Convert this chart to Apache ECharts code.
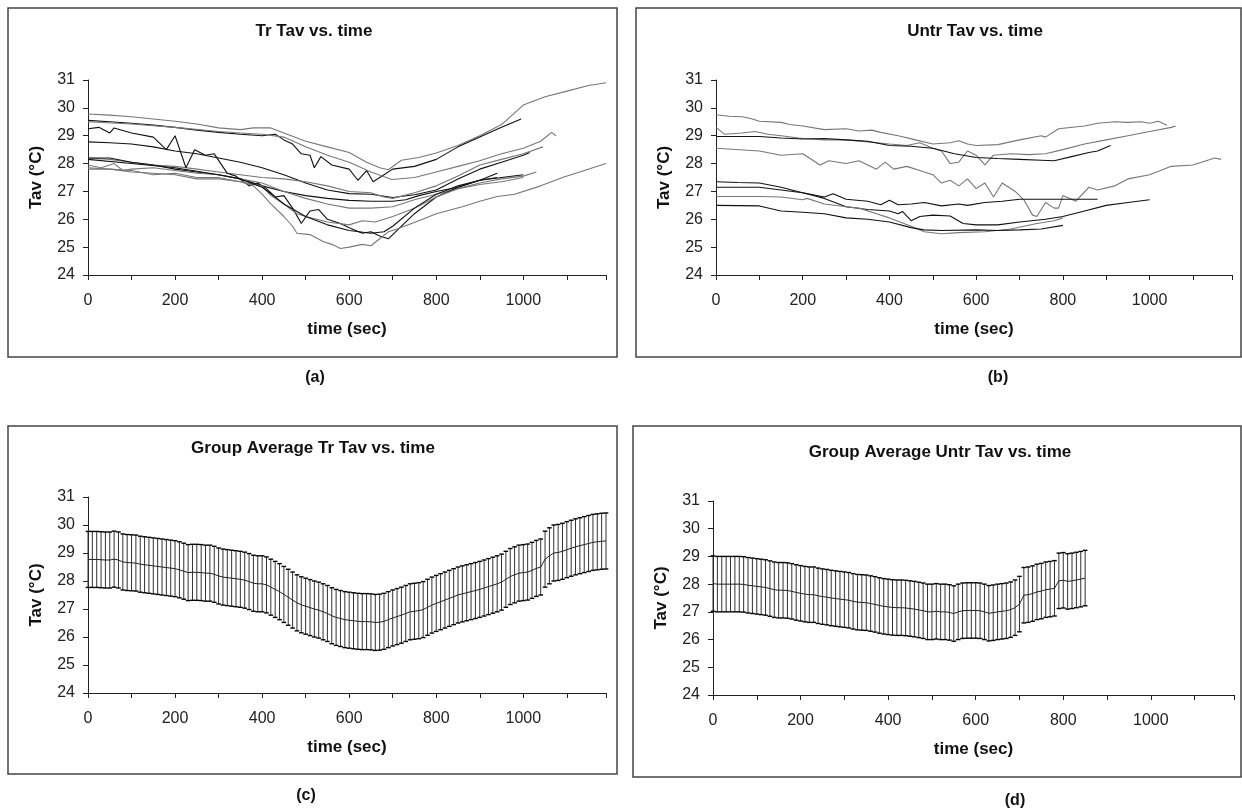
<!DOCTYPE html>
<html>
<head>
<meta charset="utf-8">
<script src="https://cdn.jsdelivr.net/npm/echarts@6/dist/echarts.min.js"></script>
<style>
html,body{margin:0;padding:0;background:#fff;}
#chart{width:1242px;height:811px;}
</style>
</head>
<body>
<div id="chart"></div>
<script>
// ---------- Data ----------
const panelTitles = ['Tr Tav vs. time', 'Untr Tav vs. time', 'Group Average Tr Tav vs. time', 'Group Average Untr Tav vs. time'];
const panelLetters = ['(a)', '(b)', '(c)', '(d)'];
const xTickValues = [0, 100, 200, 300, 400, 500, 600, 700, 800, 900, 1000, 1100, 1190];
const xLabelValues = [0, 200, 400, 600, 800, 1000];
const yTickValues = [24, 25, 26, 27, 28, 29, 30, 31];

// (a) individual treated traces [time, Tav]
const tr1 = [[0,29.78],[50,29.74],[100,29.68],[150,29.6],[200,29.52],[250,29.42],[300,29.28],[350,29.22],[380,29.28],[420,29.28],[450,29.1],[500,28.8],[550,28.6],[600,28.4],[640,28.05],[670,27.85],[690,27.78],[720,28.12],[760,28.22],[800,28.38],[850,28.65],[900,29.0],[950,29.4],[1000,30.1],[1050,30.4],[1100,30.6],[1150,30.8],[1190,30.9]];
const tr2 = [[0,29.55],[50,29.5],[100,29.45],[150,29.38],[200,29.3],[250,29.2],[300,29.12],[350,29.05],[400,29.0],[430,29.05],[450,28.85],[470,28.7],[490,28.35],[510,28.3],[520,27.85],[535,28.25],[560,27.95],[600,27.8],[620,27.4],[640,27.75],[655,27.35],[680,27.6],[700,27.8],[750,27.9],[800,28.15],[850,28.6],[900,28.95],[950,29.3],[995,29.6]];
const tr3 = [[0,29.5],[100,29.42],[200,29.3],[300,29.15],[350,29.1],[400,29.05],[450,28.95],[500,28.6],[550,28.3],[600,28.05],[650,27.7],[698,27.43],[750,27.5],[800,27.7],[850,27.9],[900,28.1],[950,28.35],[1000,28.55],[1040,28.8],[1065,29.12],[1075,29.0]];
const tr4 = [[0,28.78],[50,28.75],[100,28.7],[150,28.6],[200,28.45],[250,28.35],[300,28.2],[350,28.05],[400,27.85],[450,27.6],[500,27.3],[550,27.05],[600,26.92],[650,26.9],[700,26.78],[750,26.88],[800,27.05],[850,27.45],[900,27.8],[950,28.05],[1000,28.3],[1015,28.4]];
const tr5 = [[0,28.2],[50,28.15],[100,28.05],[150,27.95],[200,27.9],[250,27.8],[300,27.7],[350,27.6],[400,27.5],[450,27.45],[500,27.35],[550,27.2],[600,27.0],[650,26.95],[680,26.8],[700,26.75],[750,26.95],[800,27.2],[850,27.55],[900,27.95],[950,28.15],[1000,28.35],[1045,28.6]];
const tr6 = [[0,28.2],[50,28.2],[100,28.05],[150,27.95],[200,27.8],[250,27.7],[300,27.6],[350,27.45],[400,27.2],[450,27.0],[500,26.85],[550,26.75],[600,26.68],[650,26.65],[700,26.65],[730,26.7],[760,26.85],[800,27.0],[850,27.15],[900,27.4],[940,27.65]];
const tr7 = [[0,27.95],[30,27.85],[50,27.95],[60,28.0],[80,27.75],[100,27.8],[150,27.85],[200,27.75],[250,27.65],[300,27.6],[350,27.45],[400,27.3],[450,27.0],[500,26.75],[550,26.55],[600,26.4],[650,26.4],[700,26.45],[750,26.7],[800,26.9],[850,27.1],[900,27.3],[950,27.45],[1000,27.55],[1030,27.7]];
const tr8 = [[0,29.25],[25,29.3],[50,29.1],[60,29.28],[100,29.1],[150,28.95],[180,28.5],[200,29.0],[225,27.85],[245,28.5],[270,28.3],[290,28.35],[320,27.65],[340,27.55],[370,27.2],[390,27.3],[410,27.1],[430,26.8],[450,26.85],[470,26.4],[490,25.85],[510,26.3],[530,26.35],[550,26.0],[580,25.85],[600,25.7],[630,25.5],[650,25.55],[670,25.4],[690,25.3],[710,25.6],[750,26.2],[800,26.8],[850,27.15],[900,27.4],[950,27.5],[1000,27.6]];
const tr9 = [[0,27.8],[50,27.8],[100,27.75],[150,27.6],[200,27.65],[250,27.5],[300,27.5],[350,27.35],[400,27.2],[420,26.85],[450,26.55],[480,26.2],[500,26.1],[550,25.9],[600,25.8],[630,25.95],[660,25.9],[700,26.1],[750,26.4],[800,26.8],[850,27.1],[900,27.25],[950,27.35],[1000,27.5]];
const tr10 = [[0,28.15],[100,28.0],[200,27.85],[300,27.6],[350,27.45],[400,27.15],[430,26.8],[450,26.55],[500,26.1],[550,25.8],[600,25.6],[650,25.5],[680,25.55],[700,25.75],[750,26.4],[800,26.9],[850,27.2],[900,27.4],[940,27.5]];
const tr11 = [[0,27.85],[50,27.8],[100,27.7],[150,27.65],[200,27.6],[250,27.45],[300,27.45],[350,27.35],[380,27.2],[400,26.9],[420,26.55],[450,26.1],[470,25.75],[480,25.5],[510,25.45],[540,25.2],[560,25.1],[580,24.95],[600,25.0],[630,25.1],[650,25.05],[670,25.3],[690,25.55],[710,25.65],[760,25.95],[800,26.2],[860,26.45],[900,26.65],[940,26.82],[980,26.9],[1040,27.2],[1090,27.5],[1140,27.75],[1190,28.0]];

// (b) individual untreated traces [time, Tav]
const un1 = [[0,29.75],[30,29.7],[60,29.68],[80,29.62],[100,29.52],[150,29.48],[170,29.4],[200,29.35],[250,29.22],[300,29.25],[330,29.17],[360,29.2],[380,29.12],[420,29.0],[460,28.85],[500,28.7],[540,28.75],[560,28.82],[580,28.7],[600,28.65],[650,28.68],[700,28.85],[750,29.0],[760,28.95],[790,29.25],[850,29.35],[880,29.45],[920,29.5],[950,29.48],[980,29.5],[1000,29.45],[1020,29.52],[1040,29.38]];
const un2 = [[0,29.3],[20,29.05],[60,29.1],[90,29.15],[120,29.05],[150,29.0],[200,28.9],[250,28.85],[300,28.85],[350,28.78],[400,28.7],[440,28.65],[470,28.75],[500,28.55],[520,28.45],[540,28.0],[560,28.05],[580,28.45],[600,28.3],[620,27.95],[640,28.3],[680,28.35],[720,28.32],[760,28.35],[800,28.5],[850,28.7],[900,28.85],[950,29.0],[1000,29.15],[1050,29.3],[1060,29.35]];
const un3 = [[0,28.97],[50,28.97],[100,28.97],[150,28.92],[200,28.88],[250,28.9],[300,28.85],[350,28.8],[400,28.65],[450,28.62],[500,28.55],[550,28.35],[600,28.22],[650,28.18],[700,28.15],[750,28.12],[780,28.1],[820,28.25],[860,28.4],[880,28.45],[910,28.65]];
const un4 = [[0,28.55],[100,28.45],[150,28.3],[200,28.35],[240,27.95],[260,28.1],[300,28.0],[330,28.1],[370,27.8],[390,28.05],[410,27.8],[440,27.9],[470,27.75],[500,27.6],[520,27.3],[540,27.4],[560,27.2],[580,27.45],[600,27.1],[620,27.3],[640,26.8],[660,27.3],[690,27.0],[710,26.7],[730,26.15],[740,26.1],[760,26.6],[780,26.4],[790,26.4],[800,26.85],[830,26.65],[860,27.15],[880,27.05],[920,27.2],[950,27.45],[1000,27.6],[1050,27.9],[1100,27.95],[1150,28.2],[1165,28.15]];
const un5 = [[0,27.35],[50,27.32],[100,27.3],[150,27.15],[200,26.95],[250,26.8],[270,26.92],[300,26.72],[350,26.65],[380,26.52],[400,26.68],[420,26.52],[450,26.55],[480,26.6],[520,26.48],[560,26.55],[580,26.5],[620,26.6],[660,26.65],[700,26.72],[750,26.72],[800,26.72],[840,26.72],[880,26.72]];
const un6 = [[0,27.15],[50,27.15],[100,27.15],[150,27.05],[200,26.95],[250,26.75],[300,26.45],[350,26.35],[400,26.3],[420,26.2],[430,26.28],[450,25.95],[470,26.1],[500,26.15],[540,26.12],[570,25.85],[600,25.8],[650,25.8],[700,25.9],[760,26.0],[800,26.1],[850,26.3],[900,26.5],[950,26.6],[1000,26.7]];
const un7 = [[0,26.82],[100,26.82],[150,26.8],[200,26.7],[210,26.75],[250,26.55],[300,26.45],[330,26.4],[370,26.2],[400,26.05],[450,25.75],[480,25.55],[520,25.48],[560,25.52],[620,25.55],[680,25.65],[740,25.85],[780,25.95],[800,26.05]];
const un8 = [[0,26.5],[100,26.48],[150,26.3],[200,26.25],[250,26.2],[300,26.05],[350,26.0],[400,25.9],[450,25.7],[480,25.62],[520,25.6],[600,25.62],[650,25.6],[700,25.62],[750,25.65],[800,25.78]];

// (c) group average treated, one value every 10 s from 0 s
const trAvgStep = 10;
const trAvgMean = [
 28.77,28.77,28.77,28.76,28.75,28.75,28.78,28.75,28.68,28.66,
 28.65,28.64,28.60,28.58,28.56,28.54,28.52,28.50,28.48,28.46,
 28.44,28.40,28.35,28.30,28.31,28.31,28.30,28.28,28.28,28.24,
 28.18,28.14,28.12,28.10,28.08,28.06,28.03,27.98,27.92,27.90,
 27.90,27.86,27.78,27.70,27.62,27.52,27.42,27.32,27.22,27.15,
 27.10,27.05,27.00,26.96,26.90,26.84,26.76,26.70,26.66,26.62,
 26.60,26.58,26.56,26.55,26.55,26.54,26.52,26.53,26.56,26.62,
 26.68,26.73,26.78,26.84,26.90,26.92,26.94,26.98,27.06,27.14,
 27.20,27.26,27.32,27.38,27.44,27.50,27.54,27.58,27.62,27.66,
 27.70,27.75,27.80,27.85,27.90,27.96,28.06,28.16,28.22,28.28,
 28.30,28.32,28.38,28.45,28.50,28.78,28.90,29.00,29.02,29.06,
 29.12,29.17,29.22,29.26,29.30,29.34,29.38,29.40,29.42,29.43];
const trAvgErr = 1.0;

// (d) group average untreated, one value every 10 s from 0 s
const unAvgStep = 10;
const unAvgMean = [
 28.02,28.00,28.00,28.00,28.00,28.00,28.00,27.99,27.96,27.94,
 27.92,27.90,27.88,27.84,27.80,27.78,27.78,27.77,27.74,27.70,
 27.67,27.64,27.62,27.62,27.58,27.55,27.53,27.50,27.48,27.46,
 27.44,27.42,27.38,27.35,27.34,27.33,27.30,27.27,27.23,27.20,
 27.18,27.16,27.15,27.15,27.14,27.12,27.10,27.07,27.04,27.00,
 27.00,27.02,27.00,27.00,26.98,26.94,27.00,27.04,27.05,27.05,
 27.05,27.04,27.00,26.95,26.97,27.00,27.02,27.04,27.08,27.15,
 27.28,27.60,27.62,27.66,27.72,27.75,27.80,27.82,27.85,28.12,
 28.14,28.10,28.12,28.15,28.18,28.22];
const unAvgErr = 1.0;

// ---------- Build ----------
const GRAY = '#777777', BLACK = '#111';
const trLines = [tr1,tr2,tr3,tr4,tr5,tr6,tr7,tr8,tr9,tr10,tr11];
const trColors = [GRAY,BLACK,GRAY,BLACK,GRAY,BLACK,GRAY,BLACK,GRAY,BLACK,GRAY];
const unLines = [un1,un2,un3,un4,un5,un6,un7,un8];
const unColors = [GRAY,GRAY,BLACK,GRAY,BLACK,BLACK,GRAY,BLACK];

const FONT = 'Liberation Sans, Arial, sans-serif';

const grids = [
  {left: 88, top: 80, width: 518, height: 195},
  {left: 716, top: 80, width: 516, height: 195},
  {left: 88, top: 497, width: 518, height: 196},
  {left: 713, top: 501, width: 521, height: 194}
];

function makeX(i){
  return {
    type: 'value', gridIndex: i, min: 0, max: 1190, interval: 100,
    name: 'time (sec)', nameLocation: 'middle', nameGap: 46,
    nameTextStyle: {fontFamily: FONT, fontWeight: 'bold', fontSize: 17, color: '#111'},
    axisLine: {show: true, onZero: false, lineStyle: {color: '#222', width: 1}},
    axisTick: {show: true, length: 5, inside: false, customValues: xTickValues, lineStyle: {color: '#222'}},
    axisLabel: {fontFamily: FONT, fontSize: 16, color: '#222', margin: 18, customValues: xLabelValues,
      formatter: v => (v % 200 === 0 && v <= 1000) ? String(v) : ''},
    splitLine: {show: false}
  };
}
function makeY(i){
  return {
    type: 'value', gridIndex: i, min: 24, max: 31, interval: 1,
    name: 'Tav (°C)', nameLocation: 'middle', nameGap: 43, nameRotate: 90,
    nameTextStyle: {fontFamily: FONT, fontWeight: 'bold', fontSize: 17, color: '#111'},
    axisLine: {show: true, lineStyle: {color: '#222', width: 1}},
    axisTick: {show: true, length: 5, inside: false, customValues: yTickValues, lineStyle: {color: '#222'}},
    axisLabel: {fontFamily: FONT, fontSize: 16, color: '#222', margin: 13},
    splitLine: {show: false}
  };
}

const series = [];
trLines.forEach((d, k) => series.push({
  type: 'line', xAxisIndex: 0, yAxisIndex: 0, data: d, showSymbol: false, symbol: 'none',
  lineStyle: {color: trColors[k], width: 1.1}, silent: true, animation: false
}));
unLines.forEach((d, k) => series.push({
  type: 'line', xAxisIndex: 1, yAxisIndex: 1, data: d, showSymbol: false, symbol: 'none',
  lineStyle: {color: unColors[k], width: 1.1}, silent: true, animation: false
}));

function errRows(mean, step, err){
  return mean.map((m, i) => [i * step, m - err, m + err]);
}
function meanRows(mean, step){
  return mean.map((m, i) => [i * step, m]);
}
function renderErr(params, api){
  const t = api.value(0);
  const lo = api.coord([t, api.value(1)]);
  const hi = api.coord([t, api.value(2)]);
  const w = 2.3;
  return {type: 'group', children: [
    {type: 'line', shape: {x1: lo[0], y1: lo[1], x2: hi[0], y2: hi[1]}, style: {stroke: '#333', lineWidth: 1}},
    {type: 'line', shape: {x1: hi[0] - w, y1: hi[1], x2: hi[0] + w, y2: hi[1]}, style: {stroke: '#000', lineWidth: 1.4}},
    {type: 'line', shape: {x1: lo[0] - w, y1: lo[1], x2: lo[0] + w, y2: lo[1]}, style: {stroke: '#000', lineWidth: 1.4}}
  ]};
}
series.push({type: 'custom', xAxisIndex: 2, yAxisIndex: 2, renderItem: renderErr,
  encode: {x: 0, y: [1, 2]}, data: errRows(trAvgMean, trAvgStep, trAvgErr), silent: true, animation: false});
series.push({type: 'line', xAxisIndex: 2, yAxisIndex: 2, data: meanRows(trAvgMean, trAvgStep), showSymbol: false, symbol: 'none',
  lineStyle: {color: '#222', width: 1}, silent: true, animation: false, z: 3});
series.push({type: 'custom', xAxisIndex: 3, yAxisIndex: 3, renderItem: renderErr,
  encode: {x: 0, y: [1, 2]}, data: errRows(unAvgMean, unAvgStep, unAvgErr), silent: true, animation: false});
series.push({type: 'line', xAxisIndex: 3, yAxisIndex: 3, data: meanRows(unAvgMean, unAvgStep), showSymbol: false, symbol: 'none',
  lineStyle: {color: '#222', width: 1}, silent: true, animation: false, z: 3});

const panels = [
  {x1: 8, y1: 8, x2: 617, y2: 357, titleX: 314, titleY: 31, letterX: 315, letterY: 378},
  {x1: 636, y1: 8, x2: 1241, y2: 357, titleX: 975, titleY: 31, letterX: 998, letterY: 378},
  {x1: 8, y1: 426, x2: 617, y2: 774, titleX: 313, titleY: 448, letterX: 306, letterY: 796},
  {x1: 633, y1: 426, x2: 1241, y2: 777, titleX: 940, titleY: 452, letterX: 1015, letterY: 801}
];
const graphics = [];
panels.forEach((p, i) => {
  graphics.push({type: 'rect', shape: {x: p.x1, y: p.y1, width: p.x2 - p.x1, height: p.y2 - p.y1},
    style: {fill: 'none', stroke: '#444', lineWidth: 1.5}, silent: true, z: -1});
  graphics.push({type: 'text', x: p.titleX, y: p.titleY,
    style: {text: panelTitles[i], font: 'bold 17px ' + FONT, fill: '#111', textAlign: 'center', textVerticalAlign: 'middle'}});
  graphics.push({type: 'text', x: p.letterX, y: p.letterY,
    style: {text: panelLetters[i], font: 'bold 16px ' + FONT, fill: '#111', textAlign: 'center', textVerticalAlign: 'middle'}});
});

const chart = echarts.init(document.getElementById('chart'), null, {renderer: 'canvas'});
chart.setOption({
  backgroundColor: '#fff',
  animation: false,
  grid: grids,
  xAxis: [0,1,2,3].map(makeX),
  yAxis: [0,1,2,3].map(makeY),
  series: series,
  graphic: graphics
});
</script>
</body>
</html>
